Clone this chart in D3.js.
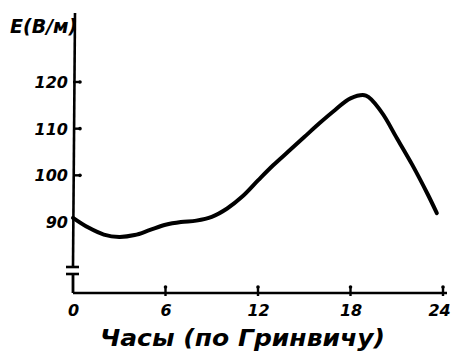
<!DOCTYPE html>
<html><head><meta charset="utf-8">
<script src="https://cdn.jsdelivr.net/npm/d3@7"></script>
<style>
html,body{margin:0;padding:0;background:#fff;}
svg{display:block;}
text{font-family:"DejaVu Sans",sans-serif;font-weight:bold;font-style:italic;fill:#000;}
</style></head>
<body>
<svg id="c" width="453" height="361"></svg>
<script>
const hours  = [0,1,2,3,4,5,6,7,8,9,10,11,12,13,14,15,16,17,18,19,20,21,22,23,23.6];
const values = [90.9,88.8,87.3,86.8,87.2,88.3,89.4,90.0,90.3,91.1,92.9,95.5,98.9,102.2,105.2,108.2,111.2,114.0,116.5,117.1,113.6,108.0,102.3,96.0,91.9];
const xTicks = [0,6,12,18,24];
const yTicks = [90,100,110,120];
const xTitle = "Часы (по Гринвичу)";
const yTitle = "E(В/м)";

const svg = d3.select("#c");
const x = d3.scaleLinear().domain([0,24]).range([73,443]);
const y = d3.scaleLinear().domain([90,120]).range([222,82]);
const axisY = 293;

// y axis main line (above break)
svg.append("line").attr("x1",x(0)+2).attr("x2",x(0)).attr("y1",y(134.8)).attr("y2",266)
  .attr("stroke","#000").attr("stroke-width",2.6);
// break marks
[267,274].forEach(v=>svg.append("line").attr("x1",x(0)-7).attr("x2",x(0)+6).attr("y1",v).attr("y2",v)
  .attr("stroke","#000").attr("stroke-width",2.6));
svg.append("line").attr("x1",x(0)).attr("x2",x(0)).attr("y1",274).attr("y2",axisY)
  .attr("stroke","#000").attr("stroke-width",2.8);

// y axis ticks and labels
const ya = svg.append("g").attr("transform",`translate(${x(0)},0)`)
  .call(d3.axisLeft(y).tickValues(yTicks).tickSize(0).tickPadding(5).tickFormat(d3.format("d")));
ya.select(".domain").remove();
ya.selectAll("text").style("font-size","16px").style("font-family","DejaVu Sans").attr("dy","0.35em");
yTicks.filter(v=>v!==90).forEach(v=>{
  svg.append("line").attr("x1",x(0)).attr("x2",x(0)+7).attr("y1",y(v)).attr("y2",y(v))
    .attr("stroke","#000").attr("stroke-width",2.4);
  svg.append("circle").attr("cx",x(0)+7).attr("cy",y(v)).attr("r",1.8).attr("fill","#000");
});

// x axis
const xa = svg.append("g").attr("transform",`translate(0,${axisY})`)
  .call(d3.axisBottom(x).tickValues(xTicks).tickSize(0).tickPadding(12).tickFormat(d3.format("d")));
xa.select(".domain").attr("stroke","#000").attr("stroke-width",2.6).attr("d",`M${x(0)},0H${x(24)+4}`);
xa.selectAll("text").style("font-size","16px").style("font-family","DejaVu Sans")
  .attr("dx",d=>d===24?-4:0);
xTicks.filter(v=>v!==0).forEach(v=>{
  svg.append("line").attr("x1",x(v)).attr("x2",x(v)).attr("y1",axisY-6).attr("y2",axisY+3)
    .attr("stroke","#000").attr("stroke-width",2.4);
  svg.append("circle").attr("cx",x(v)).attr("cy",axisY-6).attr("r",1.8).attr("fill","#000");
});

// curve
const line = d3.line().x((d,i)=>x(hours[i])).y(d=>y(d)).curve(d3.curveCatmullRom.alpha(0.5));
svg.append("path").datum(values).attr("d",line).attr("fill","none")
  .attr("stroke","#000").attr("stroke-width",4).attr("stroke-linecap","round").attr("stroke-linejoin","round");

// titles
svg.append("text").attr("x",10).attr("y",33).style("font-size","19px").text(yTitle);
svg.append("text").attr("x",100).attr("y",346).style("font-size","23px")
  .attr("textLength",285).attr("lengthAdjust","spacingAndGlyphs").text(xTitle);
</script>
</body></html>
